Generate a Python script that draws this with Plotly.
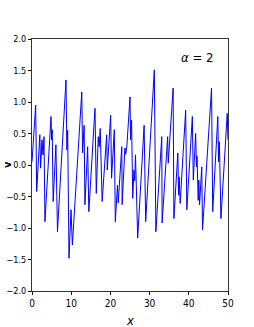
import plotly.graph_objects as go

x_vals = [0.0, 0.94, 1.2, 2.0, 2.2, 2.55, 2.8, 3.06, 3.3, 4.85, 5.0, 5.15, 5.4, 6.1, 6.5,
          8.67, 8.9, 9.1, 9.44, 9.95, 10.3, 12.7, 12.9, 13.3, 13.5, 14.2, 14.5, 16.07, 16.4,
          16.9, 17.15, 17.4, 17.9, 19.05, 19.2, 20.07, 20.3, 21.0, 21.25, 21.8, 22.0, 22.9,
          23.0, 23.7, 23.9, 24.2, 25.0, 25.15, 25.4, 25.7, 26.0, 26.2, 26.4, 26.6, 26.96,
          28.6, 29.0, 31.2, 31.6, 33.1, 33.2, 34.6, 34.75, 36.0, 36.2, 37.2, 37.4, 37.55,
          37.8, 39.2, 39.5, 40.9, 41.15, 41.75, 41.95, 42.1, 42.4, 42.55, 42.75, 43.3, 43.5,
          45.8, 46.1, 47.4, 47.6, 47.8, 48.0, 48.1, 48.2, 49.8, 50.0]
v_vals = [0.05, 0.95, -0.42, 0.48, -0.05, 0.4, 0.16, 0.45, -0.9, 0.77, 0.4, 0.56, -0.58, 0.32, -1.06,
          1.35, 0.24, 0.55, -1.48, -0.71, -1.27, 1.16, 0.19, 0.63, -0.63, 0.29, -0.74, 0.9, -0.45,
          0.45, 0.29, 0.58, -0.58, 0.48, -0.08, 0.79, -0.21, 0.56, -0.9, -0.32, -0.6, 0.29,
          -0.63, 0.27, 0.17, 0.3, 1.08, 0.4, 0.71, -0.53, -0.08, -0.25, 0.16, -0.29, -1.16,
          0.63, -0.9, 1.51, -1.06, 0.45, -0.92, 0.45, 0.03, 1.22, -0.85, 0.19, -0.48, -0.19,
          -0.61, 0.87, -0.71, 0.77, -0.24, 0.5, -0.03, 0.14, -0.56, -0.24, -0.63, -0.03, -1.03,
          1.22, -0.74, 0.77, 0.05, 0.37, -0.56, -0.4, -0.85, 0.82, 0.4]

x_ticks = [0, 10, 20, 30, 40, 50]
y_ticks = [-2.0, -1.5, -1.0, -0.5, 0.0, 0.5, 1.0, 1.5, 2.0]
y_tick_text = ["\u22122.0", "\u22121.5", "\u22121.0", "\u22120.5", "0.0", "0.5", "1.0", "1.5", "2.0"]

font_fam = "Liberation Sans Narrow, DejaVu Sans Condensed, DejaVu Sans"

fig = go.Figure()
fig.add_trace(go.Scatter(x=x_vals, y=v_vals, mode="lines",
                         line=dict(color="#0000ff", width=1)))

fig.update_layout(
    width=254, height=327,
    margin=dict(l=32, r=26, t=39, b=36, autoexpand=False),
    paper_bgcolor="white", plot_bgcolor="white",
    showlegend=False,
    font=dict(family=font_fam, size=10, color="black"),
    xaxis=dict(range=[0, 50], tickvals=x_ticks, ticks="outside", ticklen=3,
               tickcolor="black", showgrid=False, zeroline=False, automargin=False,
               showline=True, linecolor="#333", linewidth=1, mirror=True),
    yaxis=dict(range=[-2, 2], tickvals=y_ticks, ticktext=y_tick_text, ticks="outside",
               ticklen=3, tickcolor="black", showgrid=False, zeroline=False, automargin=False,
               showline=True, linecolor="#333", linewidth=1, mirror=True,
               tickfont=dict(size=9)),
    annotations=[
        dict(x=(7 - 32) / 196, y=0.5, xref="paper", yref="paper", text="<b>v</b>",
             textangle=-90, showarrow=False, font=dict(size=11),
             xanchor="center", yanchor="middle"),
        dict(x=42.1, y=1.70, xref="x", yref="y", text="<i>α</i> = 2",
             showarrow=False, font=dict(size=13)),
        dict(x=0.5, y=(291 - 320) / 252, xref="paper", yref="paper", text="<i>x</i>",
             showarrow=False, font=dict(size=13), xanchor="center", yanchor="middle"),
    ],
)

fig.write_html("out.html", config={"displayModeBar": False},
               post_script="document.body.style.margin='0px';")
